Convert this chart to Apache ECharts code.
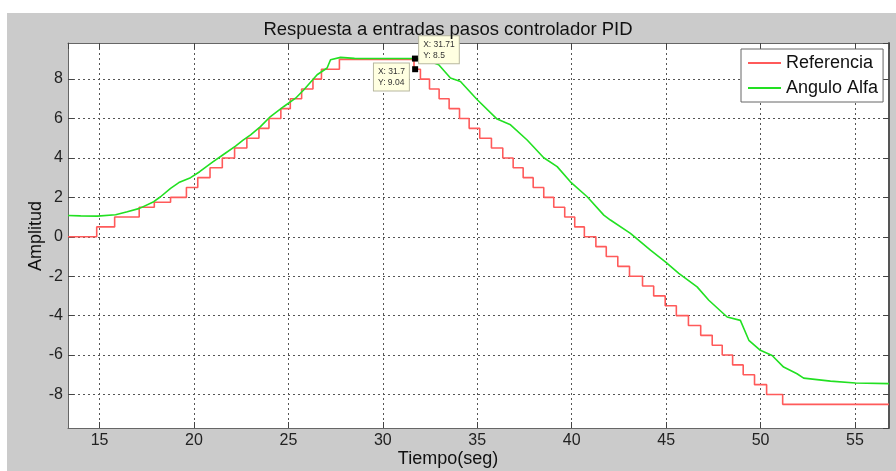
<!DOCTYPE html>
<html>
<head>
<meta charset="utf-8">
<script src="https://cdn.jsdelivr.net/npm/echarts@6/dist/echarts.min.js"></script>
<style>
html,body{margin:0;padding:0;background:#fff;}
#wrap{position:relative;width:896px;height:471px;}
#bg{position:absolute;left:7px;top:13px;right:0;bottom:0;background:#cbcbcb;}
#chart{position:absolute;left:0;top:0;width:896px;height:471px;}
</style>
</head>
<body>
<div id="wrap"><div id="bg"></div><div id="chart"></div></div>
<script>
// ---- data ----
const titleText = 'Respuesta a entradas pasos controlador PID';
const xName = 'Tiempo(seg)';
const yName = 'Amplitud';
const seriesNames = ['Referencia', 'Angulo Alfa'];

// Referencia: time at which the step level changes, and the new level
const refTime = [13.33, 14.85, 15.8, 17.1, 17.9, 18.76, 19.6, 20.2, 20.85, 21.5, 22.15, 22.8, 23.44, 23.97, 24.6, 25.1, 25.7, 26.3, 26.75, 27.7,
  31.65, 31.99, 32.47, 32.98, 33.51, 34.06, 34.57, 35.13, 35.75, 36.35, 36.9, 37.43, 37.96, 38.52, 39.05, 39.63, 40.16, 40.67,
  41.28, 41.83, 42.44, 43.06, 43.75, 44.34, 44.95, 45.54, 46.18, 46.83, 47.44, 47.97, 48.52, 49.08, 49.68, 50.32, 51.17, 56.8];
const refLevel = [0, 0.5, 1.0, 1.5, 1.75, 2.0, 2.5, 3.0, 3.5, 4.0, 4.5, 5.0, 5.5, 6.0, 6.5, 7.0, 7.5, 8.0, 8.5, 9.0,
  8.5, 8.0, 7.5, 7.0, 6.5, 6.0, 5.5, 5.0, 4.5, 4.0, 3.5, 3.0, 2.5, 2.0, 1.5, 1.0, 0.5, 0.0,
  -0.5, -1.0, -1.5, -2.0, -2.5, -3.0, -3.5, -4.0, -4.5, -5.0, -5.5, -6.0, -6.5, -7.0, -7.5, -8.0, -8.5, -8.5];

// Angulo Alfa
const alfaTime = [13.33, 14.0, 14.88, 15.85, 16.47, 17.12, 17.87, 18.23, 18.76, 19.2, 19.82, 20.3, 21.0, 21.6, 22.2, 22.6, 23.0,
  23.52, 24.05, 24.76, 25.38, 25.82, 26.52, 27.05, 27.23, 27.76, 28.5, 31.7, 32.3, 32.96, 33.58, 34.11, 35.0, 36.05, 36.76,
  37.64, 38.52, 39.23, 39.93, 40.82, 41.7, 42.05, 43.11, 44.17, 44.96, 45.67, 46.64, 47.26, 48.23, 48.93, 49.38, 49.99,
  50.61, 51.22, 51.93, 52.28, 53.7, 55.02, 56.8];
const alfaValue = [1.08, 1.06, 1.05, 1.12, 1.27, 1.44, 1.78, 2.03, 2.46, 2.75, 3.0, 3.3, 3.8, 4.2, 4.6, 4.9, 5.17,
  5.59, 6.1, 6.61, 7.03, 7.46, 8.22, 8.56, 8.98, 9.1, 9.05, 9.04, 8.95, 8.73, 8.05, 7.88, 6.95, 5.97, 5.68,
  4.91, 4.01, 3.56, 2.79, 2.03, 1.1, 0.85, 0.17, -0.68, -1.27, -1.86, -2.54, -3.22, -4.07, -4.24, -5.25, -5.76,
  -6.02, -6.61, -6.95, -7.17, -7.32, -7.42, -7.45];

// data tips
const tipAlfa = [31.7, 9.04];
const tipRef = [31.71, 8.5];

// axis ranges (tick spacing: 5 on x, 2 on y, obtained through splitNumber)
const xMin = 13.33, xMax = 56.8, xSplit = 8;
const yMin = -9.7, yMax = 9.83, ySplit = 10;

// ---- chart ----
const font = "'Liberation Sans', Arial, Helvetica, sans-serif";
const chart = echarts.init(document.getElementById('chart'), null, {renderer: 'canvas'});
const refData = refTime.map((t, i) => [t, refLevel[i]]);
const alfaData = alfaTime.map((t, i) => [t, alfaValue[i]]);

const gridLine = {show: true, lineStyle: {color: '#555', type: [2, 3], width: 1}};
const tipLabel = (txt, pos) => ({
  show: true, formatter: txt, position: pos, align: 'left', verticalAlign: 'top',
  backgroundColor: '#ffffe1', borderColor: '#b8b8a0', borderWidth: 1, padding: [3, 4, 2, 4],
  fontSize: 8.5, lineHeight: 11, color: '#333', fontFamily: font
});

function xAx(pos, labels) {
  return {
    type: 'value', position: pos, min: xMin, max: xMax, splitNumber: xSplit,
    axisLine: {show: true, onZero: false, lineStyle: {color: '#666', width: 1}},
    axisTick: {show: true, inside: true, length: 6, lineStyle: {color: '#444'}},
    axisLabel: {show: labels, fontSize: 16, color: '#222', margin: 5, fontFamily: font, showMinLabel: false, showMaxLabel: false},
    splitLine: labels ? gridLine : {show: false}
  };
}
function yAx(pos, labels) {
  return {
    type: 'value', position: pos, min: yMin, max: yMax, splitNumber: ySplit,
    axisLine: {show: true, onZero: false, lineStyle: {color: pos === 'right' ? '#555' : '#666', width: pos === 'right' ? 2 : 1}},
    axisTick: {show: true, inside: true, length: 6, lineStyle: {color: '#444'}},
    axisLabel: {show: labels, fontSize: 16, color: '#222', margin: 5, fontFamily: font, showMinLabel: false, showMaxLabel: false},
    splitLine: labels ? gridLine : {show: false}
  };
}

chart.setOption({
  animation: false,
  backgroundColor: 'transparent',
  title: {text: titleText, left: 'center', top: 15, textStyle: {fontSize: 18.5, fontWeight: 'normal', color: '#111', fontFamily: font}},
  grid: {left: 68, top: 43, right: 7, bottom: 43, show: true, backgroundColor: '#fff', borderWidth: 0},
  legend: {
    orient: 'vertical', left: 741, top: 49, data: seriesNames, icon: 'rect',
    backgroundColor: '#fff', borderColor: '#666', borderWidth: 1, padding: [4, 5, 4, 7], itemGap: 5,
    itemWidth: 33, itemHeight: 2,
    textStyle: {fontSize: 18, color: '#111', fontFamily: font, lineHeight: 20}
  },
  xAxis: [xAx('bottom', true), xAx('top', false)],
  yAxis: [yAx('left', true), yAx('right', false)],
  graphic: [
    {type: 'text', left: 'center', top: 450, style: {text: xName, fontSize: 18, fill: '#111', fontFamily: font}, z: 10},
    {type: 'text', x: 36, y: 236, rotation: Math.PI / 2, style: {text: yName, fontSize: 18, fill: '#111', fontFamily: font, align: 'center', verticalAlign: 'middle'}, z: 10}
  ],
  series: [
    {
      name: seriesNames[0], type: 'line', step: 'end', data: refData, showSymbol: false, symbol: 'none',
      lineStyle: {color: '#ff5a5a', width: 1.6}, itemStyle: {color: '#ff5a5a'}, z: 2,
      markPoint: {
        symbol: 'rect', symbolSize: 6, itemStyle: {color: '#000'},
        data: [{coord: tipRef, label: tipLabel('X: 31.71\nY: 8.5', [7, -30])}]
      }
    },
    {
      name: seriesNames[1], type: 'line', data: alfaData, showSymbol: false, symbol: 'none',
      lineStyle: {color: '#22e022', width: 1.6}, itemStyle: {color: '#22e022'}, z: 3,
      markPoint: {
        symbol: 'rect', symbolSize: 6, itemStyle: {color: '#000'},
        data: [{coord: tipAlfa, label: tipLabel('X: 31.7\nY: 9.04', [-38, 8])}]
      }
    }
  ]
});
</script>
</body>
</html>
